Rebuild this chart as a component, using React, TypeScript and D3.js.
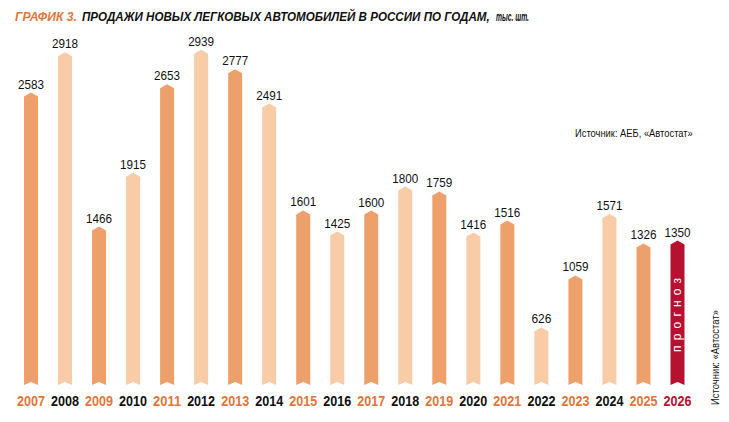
import { useEffect, useRef } from "react";
import * as d3 from "d3";

const years = [
  2007, 2008, 2009, 2010, 2011, 2012, 2013, 2014, 2015, 2016, 2017, 2018, 2019,
  2020, 2021, 2022, 2023, 2024, 2025, 2026,
];
const sales = [
  2583, 2918, 1466, 1915, 2653, 2939, 2777, 2491, 1601, 1425, 1600, 1800, 1759,
  1416, 1516, 626, 1059, 1571, 1326, 1350,
];
const forecastYears = [2026];

const TITLE_LEAD = "ГРАФИК 3.";
const TITLE_MAIN = "ПРОДАЖИ НОВЫХ ЛЕГКОВЫХ АВТОМОБИЛЕЙ В РОССИИ ПО ГОДАМ,";
const TITLE_UNIT = "тыс. шт.";
const SOURCE = "Источник: АЕБ, «Автостат»";
const SOURCE_SIDE = "Источник: «Автостат»";
const FORECAST_LABEL = "прогноз";

const WIDTH = 729;
const HEIGHT = 422;
const FONT = "'Liberation Sans', Arial, sans-serif";

const DARK = "#eea06b";
const LIGHT = "#f8cca6";
const RED = "#b8102f";
const ORANGE_TEXT = "#e2763a";

type TextSel = d3.Selection<SVGTextElement, unknown, null, undefined>;

// No condensed face is installed: squeeze a text horizontally to a given width
const fitText = (sel: TextSel, left: number, base: number, width: number, rotate = 0) => {
  const w = sel.node()!.getComputedTextLength() || width;
  sel.attr(
    "transform",
    `translate(${left}, ${base}) rotate(${rotate}) scale(${width / w}, 1)`
  );
};

const App = () => {
  const svgRef = useRef<SVGSVGElement | null>(null);

  useEffect(() => {
    if (!svgRef.current) return;
    const svg = d3.select(svgRef.current);
    svg.selectAll("*").remove();

    const baseY = 385;
    const halfW = 7;
    const tip = 4;
    const notch = 3;

    const x = d3.scalePoint<number>().domain(years).range([31, 677.5]);
    const y = d3.scaleLinear().domain([0, 3000]).range([402.5, 42.5]);

    const rows = years.map((yr, i) => ({
      year: yr,
      value: sales[i],
      forecast: forecastYears.includes(yr),
      odd: i % 2 === 0,
    }));

    const fill = (d: (typeof rows)[number]) =>
      d.forecast ? RED : d.odd ? DARK : LIGHT;

    // Title
    const titlePart = (text: string, color: string, size: number) =>
      svg
        .append("text")
        .attr("font-family", FONT)
        .attr("font-weight", "bold")
        .attr("font-style", "italic")
        .attr("font-size", size)
        .attr("fill", color)
        .text(text) as unknown as TextSel;

    fitText(titlePart(TITLE_LEAD, ORANGE_TEXT, 12), 15, 21, 62);
    fitText(titlePart(TITLE_MAIN, "#111", 12), 82, 21, 408);
    fitText(titlePart(TITLE_UNIT, "#111", 12), 496, 21, 33);

    // Bars with pointed top and notched foot
    const barPath = (d: (typeof rows)[number]) => {
      const cx = x(d.year)!;
      const ty = y(d.value);
      const p = d3.path();
      p.moveTo(cx - halfW, baseY);
      p.lineTo(cx - halfW, ty + tip);
      p.lineTo(cx, ty);
      p.lineTo(cx + halfW, ty + tip);
      p.lineTo(cx + halfW, baseY);
      p.lineTo(cx, baseY - notch);
      p.closePath();
      return p.toString();
    };

    svg
      .append("g")
      .selectAll("path")
      .data(rows)
      .join("path")
      .attr("d", barPath)
      .attr("fill", fill);

    // Value labels
    svg
      .append("g")
      .selectAll("text")
      .data(rows)
      .join("text")
      .attr("x", (d) => x(d.year)!)
      .attr("y", (d) => y(d.value) - 4)
      .attr("text-anchor", "middle")
      .attr("font-family", FONT)
      .attr("font-size", 13.5)
      .attr("textLength", (d) => (String(d.value).length > 3 ? 26 : 20))
      .attr("lengthAdjust", "spacingAndGlyphs")
      .attr("fill", "#111")
      .text((d) => d.value);

    // Year labels
    svg
      .append("g")
      .selectAll("text")
      .data(rows)
      .join("text")
      .attr("x", (d) => x(d.year)!)
      .attr("y", 406)
      .attr("text-anchor", "middle")
      .attr("font-family", FONT)
      .attr("font-size", 14)
      .attr("font-weight", "bold")
      .attr("textLength", 28)
      .attr("lengthAdjust", "spacingAndGlyphs")
      .attr("fill", (d) => (d.forecast ? RED : d.odd ? ORANGE_TEXT : "#111"))
      .text((d) => d.year);

    // Forecast label inside the bar
    rows
      .filter((d) => d.forecast)
      .forEach((d) => {
        svg
          .append("text")
          .attr("transform", `translate(${x(d.year)! + 3}, 352) rotate(-90)`)
          .attr("font-family", FONT)
          .attr("font-size", 12)
          .attr("textLength", 74)
          .attr("lengthAdjust", "spacing")
          .attr("fill", "#fff")
          .text(FORECAST_LABEL);
      });

    // Sources
    const source = svg
      .append("text")
      .attr("font-family", FONT)
      .attr("font-size", 11.5)
      .attr("fill", "#111")
      .text(SOURCE) as unknown as TextSel;
    fitText(source, 575, 137, 118);

    const sourceSide = svg
      .append("text")
      .attr("font-family", FONT)
      .attr("font-size", 11.5)
      .attr("fill", "#111")
      .text(SOURCE_SIDE) as unknown as TextSel;
    fitText(sourceSide, 719, 405, 95, -90);
  }, []);

  return (
    <svg
      ref={svgRef}
      width={WIDTH}
      height={HEIGHT}
      viewBox={`0 0 ${WIDTH} ${HEIGHT}`}
      style={{ position: "absolute", left: 0, top: 0, background: "#fff" }}
    />
  );
};

export default App;
